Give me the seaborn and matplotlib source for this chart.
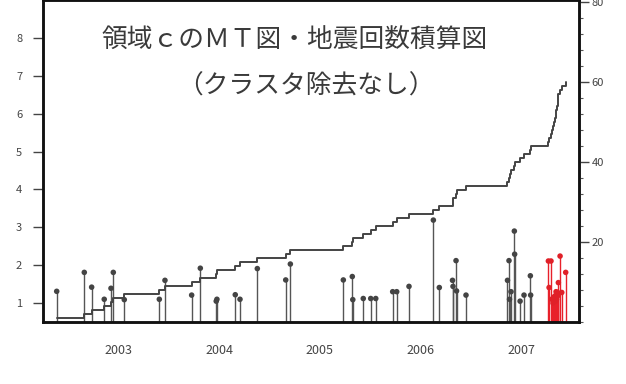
import numpy as np
import pandas as pd
import matplotlib
matplotlib.use('Agg')
import matplotlib.pyplot as plt
from matplotlib.ticker import MultipleLocator
import seaborn as sns

sns.set_style('white')
plt.rcParams['font.family'] = ['Noto Sans CJK JP', 'DejaVu Sans']

# event times (decimal years) and magnitudes
black_t = [2002.888, 2003.162, 2003.235, 2003.360, 2003.427, 2003.450, 2003.559,
           2003.907, 2003.963, 2004.228, 2004.314, 2004.472, 2004.479, 2004.661,
           2004.708, 2004.880, 2005.162, 2005.208, 2005.734, 2005.823, 2005.828,
           2005.932, 2006.006, 2006.056, 2006.224, 2006.264, 2006.386, 2006.628,
           2006.687, 2006.818, 2006.823, 2006.853, 2006.858, 2006.952, 2007.364,
           2007.379, 2007.384, 2007.399, 2007.432, 2007.435, 2007.489, 2007.528,
           2007.591, 2007.594]
black_m = [1.31, 1.81, 1.42, 1.10, 1.39, 1.81, 1.09, 1.10, 1.60, 1.21, 1.92, 1.05,
           1.10, 1.22, 1.10, 1.91, 1.61, 2.03, 1.61, 1.70, 1.09, 1.12, 1.12, 1.12,
           1.30, 1.30, 1.44, 3.19, 1.41, 1.60, 1.44, 2.12, 1.32, 1.21, 1.60, 2.12,
           1.10, 1.30, 2.90, 2.29, 1.05, 1.21, 1.72, 1.21]
red_t = [2007.770, 2007.777, 2007.796, 2007.803, 2007.816, 2007.821, 2007.836,
         2007.841, 2007.846, 2007.851, 2007.861, 2007.866, 2007.869, 2007.886,
         2007.903, 2007.942]
red_m = [2.11, 1.41, 2.11, 1.10, 1.00, 1.15, 1.19, 1.05, 1.30, 1.10, 1.28, 1.20,
         1.54, 2.24, 1.28, 1.81]

years = [2003, 2004, 2005, 2006, 2007]
left_ticks = [1, 2, 3, 4, 5, 6, 7, 8]
right_ticks = [20, 40, 60, 80]
title1 = '領域ｃのＭＴ図・地震回数積算図'
title2 = '（クラスタ除去なし）'

df_b = pd.DataFrame({'t': black_t, 'M': black_m})
df_r = pd.DataFrame({'t': red_t, 'M': red_m})
all_t = np.sort(np.array(black_t + red_t))
cum = pd.DataFrame({'t': all_t, 'n': np.arange(1, len(all_t) + 1)})

fig = plt.figure(figsize=(6.26, 3.84), dpi=100)
ax = fig.add_axes([43 / 626, 62 / 384, 536 / 626, 322 / 384])
ax2 = ax.twinx()

ybot = 0.5
ax.vlines(df_b['t'], ybot, df_b['M'], color='#555555', lw=1.0)
ax.vlines(df_r['t'], ybot, df_r['M'], color='#e8202a', lw=1.0)
sns.scatterplot(data=df_b, x='t', y='M', ax=ax, color='#444444', s=16,
                edgecolor='none', zorder=3)
sns.scatterplot(data=df_r, x='t', y='M', ax=ax, color='#e02028', s=16,
                edgecolor='none', zorder=3)

sns.lineplot(data=cum, x='t', y='n', ax=ax2, color='#444444', lw=1.4,
             drawstyle='steps-post', estimator=None)

ax.set_xlim(2002.752, 2008.074)
ax.set_ylim(ybot, 9)
ax2.set_ylim(0, 80.5)

ax.set_xticks(years + [2008])
ax.set_xticklabels([])
ax.xaxis.set_minor_locator(MultipleLocator(1 / 12))
ax.tick_params(axis='x', which='major', direction='out', length=9, width=1, color='#333333')
ax.tick_params(axis='x', which='minor', direction='out', length=4, width=0.8, color='#666666')
for y in years:
    ax.text(y + 0.5, -0.09, str(y), transform=ax.get_xaxis_transform(),
            ha='center', va='center', fontsize=9, color='#444444')

ax.set_yticks(left_ticks)
ax.set_yticklabels([str(v) for v in left_ticks], fontsize=8, color='#444444')
ax.tick_params(axis='y', which='major', direction='out', length=7, width=1,
               color='#444444', pad=8)
ax.text(-0.045, 0.998, 'M', transform=ax.transAxes, ha='center', va='bottom',
        fontsize=8, color='#444444')

ax2.set_yticks(right_ticks)
ax2.set_yticklabels([str(v) for v in right_ticks], fontsize=8, color='#444444')
ax2.yaxis.set_minor_locator(MultipleLocator(4))
ax2.tick_params(axis='y', which='major', direction='out', length=7, width=1,
                color='#444444', pad=2)
ax2.tick_params(axis='y', which='minor', direction='out', length=3, width=0.8,
                color='#555555')

ax.set_xlabel('')
ax.set_ylabel('')
ax2.set_ylabel('')
for a in (ax, ax2):
    for s in a.spines.values():
        s.set_linewidth(1.8)
        s.set_color('#111111')

fig.text(295 / 626, 1 - 41 / 384, title1, ha='center', va='center',
         fontsize=18.5, color='#3a3a3a')
fig.text(306 / 626, 1 - 87 / 384, title2, ha='center', va='center',
         fontsize=18.5, color='#3a3a3a')

fig.savefig('out.png', dpi=100)
